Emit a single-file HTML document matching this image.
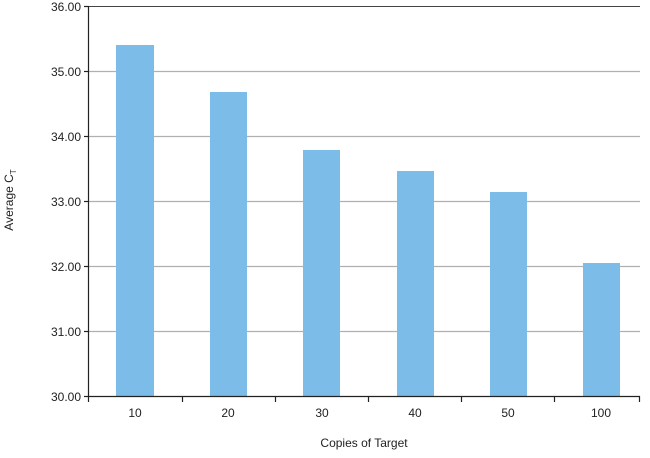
<!DOCTYPE html>
<html><head><style>body{margin:0;background:#fff}</style></head><body>
<svg width="650" height="453" xmlns="http://www.w3.org/2000/svg" font-family="Liberation Sans, sans-serif" font-size="12" fill="#222">
<g stroke="#b0b0b0" stroke-width="1.3">
<line x1="89" y1="71.5" x2="640" y2="71.5"/>
<line x1="89" y1="136.5" x2="640" y2="136.5"/>
<line x1="89" y1="201.5" x2="640" y2="201.5"/>
<line x1="89" y1="266.5" x2="640" y2="266.5"/>
<line x1="89" y1="331.5" x2="640" y2="331.5"/>
</g>
<line x1="89" y1="6.5" x2="640" y2="6.5" stroke="#444" stroke-width="1"/>
<g fill="#7bbde8">
<rect x="116" y="45" width="38" height="352"/>
<rect x="210" y="92" width="37" height="305"/>
<rect x="303" y="150" width="37" height="247"/>
<rect x="397" y="171" width="37" height="226"/>
<rect x="490" y="192" width="37" height="205"/>
<rect x="583" y="263" width="37" height="134"/>
</g>
<g stroke="#222" stroke-width="1.2">
<line x1="88.5" y1="6" x2="88.5" y2="397"/>
<line x1="88" y1="396.5" x2="640" y2="396.5"/>
<line x1="84" y1="6.5" x2="89" y2="6.5"/><line x1="84" y1="71.5" x2="89" y2="71.5"/>
<line x1="84" y1="136.5" x2="89" y2="136.5"/><line x1="84" y1="201.5" x2="89" y2="201.5"/>
<line x1="84" y1="266.5" x2="89" y2="266.5"/><line x1="84" y1="331.5" x2="89" y2="331.5"/>
<line x1="84" y1="396.5" x2="89" y2="396.5"/>
<line x1="88.5" y1="396" x2="88.5" y2="402"/><line x1="182.5" y1="396" x2="182.5" y2="402"/>
<line x1="275.5" y1="396" x2="275.5" y2="402"/><line x1="368.5" y1="396" x2="368.5" y2="402"/>
<line x1="461.5" y1="396" x2="461.5" y2="402"/><line x1="554.5" y1="396" x2="554.5" y2="402"/>
<line x1="639.5" y1="396" x2="639.5" y2="402"/>
</g>
<g text-anchor="end">
<text x="81" y="11">36.00</text><text x="81" y="76">35.00</text><text x="81" y="141">34.00</text>
<text x="81" y="206">33.00</text><text x="81" y="271">32.00</text><text x="81" y="336">31.00</text>
<text x="81" y="401">30.00</text>
</g>
<g text-anchor="middle">
<text x="135" y="417">10</text><text x="228" y="417">20</text><text x="322" y="417">30</text>
<text x="415" y="417">40</text><text x="508" y="417">50</text><text x="601" y="417">100</text>
<text x="364" y="447">Copies of Target</text>
<text transform="translate(13,200) rotate(-90)">Average C<tspan font-size="8" dy="3">T</tspan></text>
</g>
</svg>
</body></html>
